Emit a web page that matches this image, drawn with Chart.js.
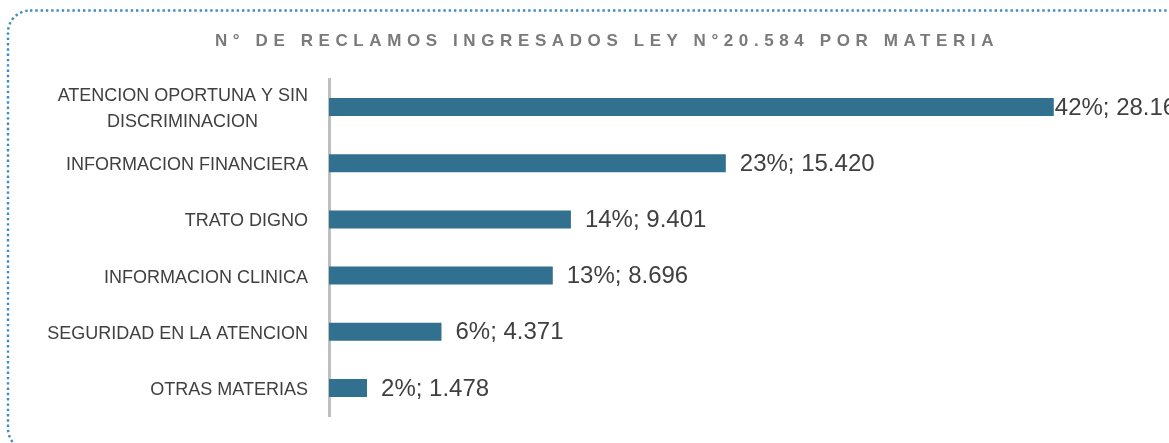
<!DOCTYPE html>
<html>
<head>
<meta charset="utf-8">
<script src="https://cdn.jsdelivr.net/npm/chart.js@4"></script>
<style>
    body { margin: 0; background: #fff; }
    #wrap { position: relative; width: 1169px; height: 443px; overflow: hidden; }
    #titulo {
        position: absolute; left: 0; top: 31px; width: 1214px; text-align: center;
        font: bold 17px "Liberation Sans", sans-serif; letter-spacing: 5.6px; color: #7a7a7a;
    }
    canvas { position: absolute; left: 0; top: 0; }
</style>
</head>
<body>
<div id="wrap">
    <canvas id="myChart" width="1169" height="443"></canvas>
    <div id="titulo">N° DE RECLAMOS INGRESADOS LEY N°20.584 POR MATERIA</div>
</div>
<script>
const materias = [
    ['ATENCION OPORTUNA Y SIN', 'DISCRIMINACION'],
    'INFORMACION FINANCIERA',
    'TRATO DIGNO',
    'INFORMACION CLINICA',
    'SEGURIDAD EN LA ATENCION',
    'OTRAS MATERIAS'
];
const reclamos = [28165, 15420, 9401, 8696, 4371, 1478];
const porcentajes = [42, 23, 14, 13, 6, 2];

const fuenteEtiquetas = '18px "Liberation Sans", sans-serif';

function formatoMiles(n) {
    return String(n).replace(/\B(?=(\d{3})+(?!\d))/g, '.');
}

// centra las lineas de una etiqueta de varias lineas (como Excel)
const medidor = document.createElement('canvas').getContext('2d');
function centrarLineas(label) {
    if (!Array.isArray(label)) return label;
    medidor.font = fuenteEtiquetas;
    const anchos = label.map(l => medidor.measureText(l).width);
    const max = Math.max.apply(null, anchos);
    const esp = medidor.measureText('\u00a0').width;
    return label.map(function(l, i) {
        const n = Math.round((max - anchos[i]) / 2 / esp);
        return l + '\u00a0'.repeat(n);
    });
}

// marco punteado redondeado
const marco = {
    id: 'marco',
    beforeDraw(chart) {
        const ctx = chart.ctx;
        ctx.save();
        ctx.strokeStyle = '#3f8cc2';
        ctx.lineWidth = 2.4;
        ctx.setLineDash([2.4, 2.9]);
        ctx.beginPath();
        ctx.roundRect(8, 10.5, 1185, 440, 22);
        ctx.stroke();
        ctx.restore();
    }
};

// etiquetas "xx%; n.nnn" al final de cada barra
const etiquetas = {
    id: 'etiquetas',
    afterDatasetsDraw(chart) {
        const ctx = chart.ctx;
        const meta = chart.getDatasetMeta(0);
        ctx.save();
        ctx.font = '24px "Liberation Sans", sans-serif';
        ctx.fillStyle = '#404040';
        ctx.textBaseline = 'middle';
        meta.data.forEach(function(bar, i) {
            const txt = porcentajes[i] + '%; ' + formatoMiles(reclamos[i]);
            let x = bar.x + 14;
            if (x + ctx.measureText(txt).width > chart.width) x = bar.x + 1;
            ctx.fillText(txt, x, bar.y + 1);
        });
        ctx.restore();
    }
};

const ctx = document.getElementById('myChart').getContext('2d');
const myChart = new Chart(ctx, {
    type: 'bar',
    data: {
        labels: materias,
        datasets: [{
            data: reclamos,
            backgroundColor: '#31708f',
            barPercentage: 0.32,
            categoryPercentage: 1
        }]
    },
    options: {
        indexAxis: 'y',
        responsive: false,
        animation: false,
        layout: { padding: { left: 0, top: 79, right: 68, bottom: 27 } },
        plugins: {
            legend: { display: false },
            tooltip: { enabled: false }
        },
        scales: {
            x: { display: false, min: 0, max: 30000 },
            y: {
                afterFit: function(scale) {
                    scale.width = 329;
                    scale.paddingTop = 0;
                    scale.paddingBottom = 0;
                },
                grid: { display: false, drawTicks: false },
                border: { display: true, color: '#bfbfbf', width: 3 },
                ticks: {
                    padding: 21,
                    labelOffset: 2,
                    color: '#404040',
                    font: { family: '"Liberation Sans", sans-serif', size: 18, lineHeight: 1.4 },
                    callback: function(value) {
                        return centrarLineas(this.getLabelForValue(value));
                    }
                }
            }
        }
    },
    plugins: [marco, etiquetas]
});
</script>
</body>
</html>
